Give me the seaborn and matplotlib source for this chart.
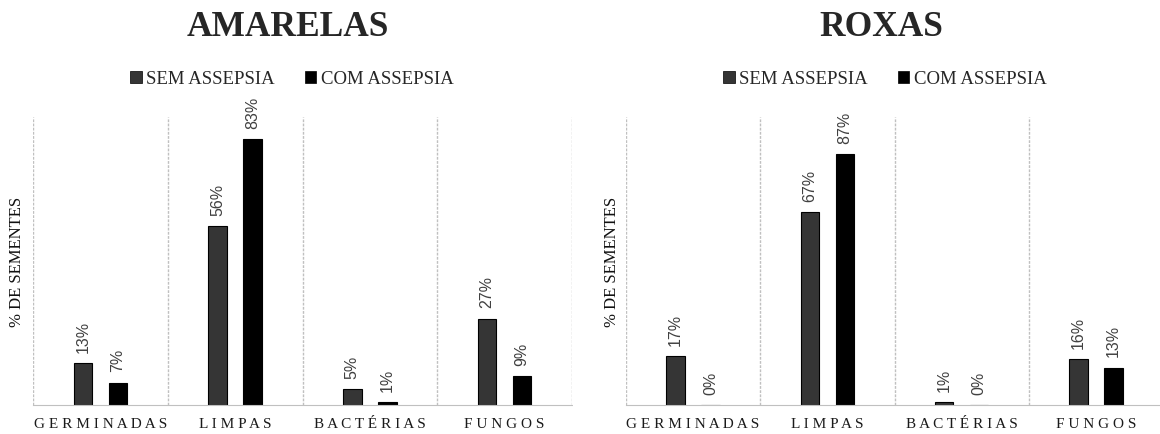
import numpy as np
import pandas as pd
import seaborn as sns
import matplotlib.pyplot as plt
from matplotlib.patches import Patch

categorias = ["GERMINADAS", "LIMPAS", "BACTÉRIAS", "FUNGOS"]
tratamentos = ["SEM ASSEPSIA", "COM ASSEPSIA"]

# % de sementes
amarelas_sem = [13, 56, 5, 27]
amarelas_com = [7, 83, 1, 9]
roxas_sem = [17, 67, 1, 16]
roxas_com = [0, 87, 0, 13]

cores = {"SEM ASSEPSIA": "#353535", "COM ASSEPSIA": "#000000"}

sns.set_style("white")
plt.rcParams['font.family'] = ['Liberation Serif', 'DejaVu Serif']

W, H = 1160, 435
fig = plt.figure(figsize=(W / 100, H / 100), dpi=100)


def monta_df(sem, com):
    linhas = []
    for cat, s, c in zip(categorias, sem, com):
        linhas.append((cat, tratamentos[0], s))
        linhas.append((cat, tratamentos[1], c))
    return pd.DataFrame(linhas, columns=["categoria", "tratamento", "valor"])


def painel(ax, sem, com, ymax, titulo, xt, yl_pad):
    df = monta_df(sem, com)
    sns.barplot(data=df, x="categoria", y="valor", hue="tratamento",
                order=categorias, hue_order=tratamentos, palette=cores,
                width=0.52, gap=0.47, saturation=1, edgecolor="black",
                linewidth=0.8, legend=False, ax=ax)

    for cont in ax.containers:
        ax.bar_label(cont, fmt="%.0f%%", rotation=90, padding=8,
                     fontsize=11.5, color="#404040", family="Liberation Sans")

    ax.set_xlim(-0.5, 3.5)
    ax.set_ylim(0, ymax)
    ax.set_yticks([])
    ax.set_xticks(range(len(categorias)))
    ax.set_xticklabels([" ".join(c) for c in categorias], fontsize=11,
                       color="#1a1a1a")
    ax.tick_params(axis="x", length=0, pad=9)
    ax.set_xticks(np.arange(-0.5, len(categorias)), minor=True)
    ax.tick_params(axis="x", which="minor", length=0)
    ax.grid(which="minor", axis="x", color="#c0c0c0", linestyle=(0, (2, 1)),
            linewidth=1)
    ax.set_xlabel("")
    ax.set_ylabel("% DE SEMENTES", fontsize=12, labelpad=yl_pad, color="#111")
    for s in ["top", "right", "left"]:
        ax.spines[s].set_visible(False)
    ax.spines["bottom"].set_color("#c0c0c0")
    ax.spines["bottom"].set_linestyle((0, (2, 1)))
    ax.set_axisbelow(True)

    fig.text(xt / W, 1 - 27 / H, titulo, ha="center", va="center",
             fontsize=25.5, fontweight="bold")
    handles = [Patch(facecolor=cores[t], edgecolor="black", linewidth=0.5)
               for t in tratamentos]
    fig.legend(handles, tratamentos, loc="center", ncol=2,
               bbox_to_anchor=(xt / W + 4 / W, 1 - 80 / H), frameon=False,
               fontsize=13.5, handlelength=0.6, handleheight=0.6,
               handletextpad=0.25, columnspacing=1.6)


ax1 = fig.add_axes([33 / W, 29 / H, 539 / W, 288 / H])
ax2 = fig.add_axes([626 / W, 29 / H, 537 / W, 288 / H])

painel(ax1, amarelas_sem, amarelas_com, 90, "AMARELAS", 288, 6)
painel(ax2, roxas_sem, roxas_com, 100, "ROXAS", 881, 4)

fig.savefig("out.png", dpi=100)
